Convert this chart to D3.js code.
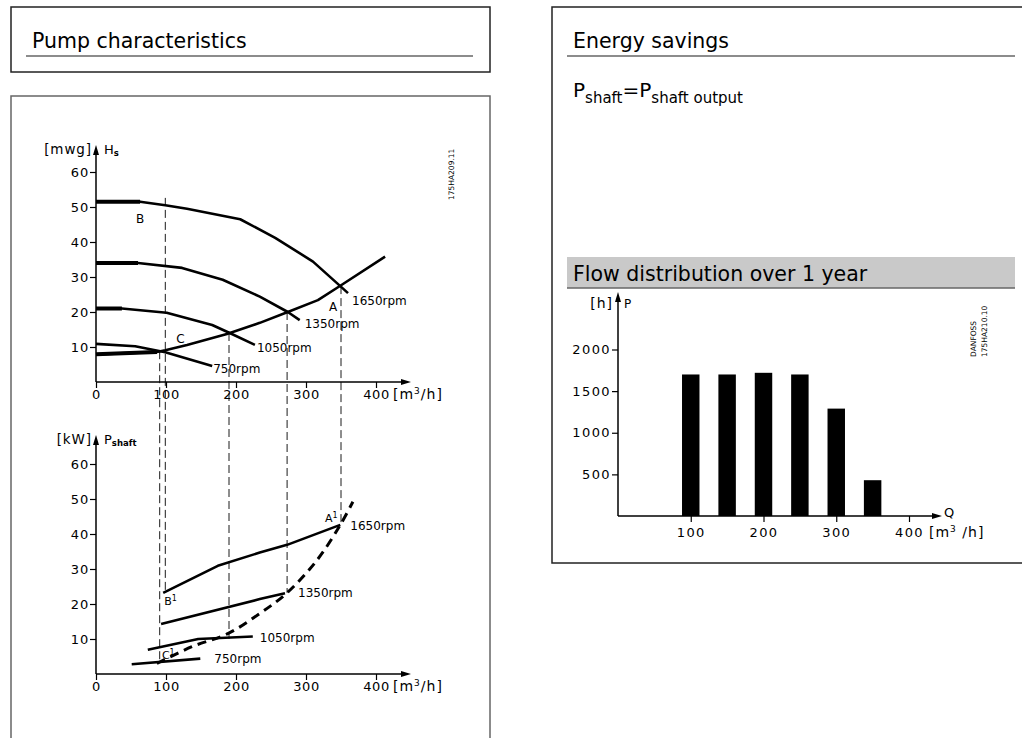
<!DOCTYPE html>
<html>
<head>
<meta charset="utf-8">
<script src="https://cdn.jsdelivr.net/npm/d3@7"></script>
<style>
    body { margin: 0; background: #fff; }
    text { font-family: "DejaVu Sans", sans-serif; fill: #000; }
</style>
</head>
<body>
<div class="chart-container"></div>
<script>
// ticks
const flowTicks = [0, 100, 200, 300, 400];
const headTicks = [10, 20, 30, 40, 50, 60];
const powerTicks = [10, 20, 30, 40, 50, 60];
const barFlowTicks = [100, 200, 300, 400];
const hourTicks = [500, 1000, 1500, 2000];

// head curves, [Q m3/h, H mwg]
const head1650 = [[0, 51.5], [63, 51.5], [99, 50.5], [130, 49.5], [206, 46.5], [256, 41.2], [310, 34.4], [349, 27.4], [360, 25.4]];
const head1350 = [[0, 34], [60, 34], [123, 32.6], [181, 29.2], [234, 24.4], [274, 20], [291, 17.7]];
const head1050 = [[0, 21], [37, 21], [101, 19.8], [166, 16.3], [191, 14], [227, 10.6]];
const head750 = [[0, 10.9], [56, 10.2], [99, 8.5], [166, 4.6]];
const systemHead = [[0, 7.9], [87, 8.6], [99, 9.1], [130, 10.6], [187, 13.7], [234, 16.9], [274, 20], [317, 23.4], [349, 27.5], [413, 35.8]];

// shaft power curves, [Q m3/h, P kW]
const power1650 = [[96, 23.2], [174, 30.9], [234, 34.7], [273, 36.9], [349, 42.6]];
const power1350 = [[93, 14.3], [234, 21.4], [270, 23.1]];
const power1050 = [[74, 6.9], [146, 10], [224, 10.7]];
const power750 = [[51, 2.8], [149, 4.4]];
const systemPower = [[87, 3.0], [137, 7.8], [189, 11.6], [234, 17.3], [273, 23.2], [316, 32.6], [349, 42.6], [367, 49.2]];

const speeds = ["1650rpm", "1350rpm", "1050rpm", "750rpm"];

// operating points projected down from head chart to power chart
const guideFlow = [91, 99, 190, 273, 350];
const guideHeadTop = [8.8, 52.6, 14, 20, 27.4];
const guidePowerEnd = [3.2, 23.2, 10, 23.2, 42.6];

// flow distribution over 1 year
const distFlow = [100, 150, 200, 250, 300, 350];
const distHours = [1700, 1700, 1720, 1700, 1290, 430];

const svg = d3.select(".chart-container")
    .append("svg")
    .attr("width", 1022)
    .attr("height", 738);

// ---- frames and headings
const frame = (x, y, w, h, color) => svg.append("rect")
    .attr("x", x).attr("y", y).attr("width", w).attr("height", h)
    .attr("fill", "none").attr("stroke", color).attr("stroke-width", 1.5);

frame(11, 7, 479, 65, "#222");
frame(11, 96, 479, 700, "#666");
frame(552, 7, 520, 556, "#222");

const heading = (x, y, str) => svg.append("text")
    .attr("x", x).attr("y", y).attr("font-size", 20.5).text(str);

const rule = (x1, x2, y) => svg.append("line")
    .attr("x1", x1).attr("x2", x2).attr("y1", y).attr("y2", y)
    .attr("stroke", "#666").attr("stroke-width", 1.5);

heading(32, 48, "Pump characteristics");
rule(26, 473, 56);
heading(573, 48, "Energy savings");
rule(567, 1015, 56);

const formula = svg.append("text").attr("x", 573).attr("y", 97).attr("font-size", 20);
formula.append("tspan").text("P");
formula.append("tspan").attr("font-size", 15).attr("dy", 6).text("shaft");
formula.append("tspan").attr("dy", -6).text("=P");
formula.append("tspan").attr("font-size", 15).attr("dy", 6).text("shaft output");

svg.append("rect")
    .attr("x", 567).attr("y", 257).attr("width", 448).attr("height", 31)
    .attr("fill", "#c9c9c9");
rule(567, 1015, 288);
heading(573, 281, "Flow distribution over 1 year");

// ---- helpers
const arrow = (x, y, dir) => {
    const d = dir === "up"
        ? `M${x},${y} L${x - 3},${y + 10} L${x + 3},${y + 10} Z`
        : `M${x},${y} L${x - 10},${y - 3} L${x - 10},${y + 3} Z`;
    svg.append("path").attr("d", d).attr("fill", "#000");
};

const styleTicks = (g, spacing) => {
    g.select(".domain").remove();
    g.selectAll(".tick line").attr("stroke", "#000").attr("stroke-width", 1.2);
    g.selectAll(".tick text")
        .attr("font-family", "DejaVu Sans, sans-serif")
        .attr("font-size", 13)
        .attr("letter-spacing", spacing);
};

const xQ = d3.scaleLinear().domain([0, 400]).range([96, 376]);
const yH = d3.scaleLinear().domain([0, 60]).range([382, 172]);
const yP = d3.scaleLinear().domain([0, 60]).range([674, 464]);

const pumpAxes = (yScale, ticks, topY, unit, symbol, sub) => {
    const y0 = yScale(0);

    svg.append("g")
        .attr("transform", `translate(0, ${y0})`)
        .call(d3.axisBottom(xQ).tickValues(flowTicks).tickSize(6).tickPadding(2))
        .call(g => styleTicks(g, 0.6));

    svg.append("g")
        .attr("transform", `translate(${xQ(0)}, 0)`)
        .call(d3.axisLeft(yScale).tickValues(ticks).tickSize(6).tickPadding(1))
        .call(g => styleTicks(g, 0.8));

    svg.append("line")
        .attr("x1", xQ(0)).attr("x2", 404).attr("y1", y0).attr("y2", y0)
        .attr("stroke", "#000").attr("stroke-width", 1.5);
    arrow(411, y0, "right");
    svg.append("line")
        .attr("x1", xQ(0)).attr("x2", xQ(0)).attr("y1", y0).attr("y2", topY + 8)
        .attr("stroke", "#000").attr("stroke-width", 1.5);
    arrow(xQ(0), topY, "up");

    const u = svg.append("text").attr("x", 393).attr("y", y0 + 17)
        .attr("font-size", 14).attr("letter-spacing", 1);
    u.append("tspan").text("[m");
    u.append("tspan").attr("font-size", 9).attr("dy", -5).text("3");
    u.append("tspan").attr("dy", 5).text("/h]");

    svg.append("text").attr("x", xQ(0) - 4).attr("y", topY + 9)
        .attr("text-anchor", "end").attr("font-size", 13.5).attr("letter-spacing", 0.9)
        .text(unit);
    const s = svg.append("text").attr("x", xQ(0) + 8).attr("y", topY + 9).attr("font-size", 13);
    s.append("tspan").text(symbol);
    s.append("tspan").attr("font-size", 8.5).attr("font-weight", "bold").attr("dy", 2).text(sub);
};

pumpAxes(yH, headTicks, 145, "[mwg]", "H", "s");
pumpAxes(yP, powerTicks, 435, "[kW]", "P", "shaft");

// ---- operating point guides
guideFlow.forEach((q, i) => {
    svg.append("line")
        .attr("x1", xQ(q)).attr("x2", xQ(q))
        .attr("y1", yH(guideHeadTop[i])).attr("y2", yP(guidePowerEnd[i]))
        .attr("stroke", "#000").attr("stroke-width", 0.9)
        .attr("stroke-dasharray", "8,4");
});

// ---- curves
const curveLine = (scaleY, curve) => d3.line()
    .x(d => xQ(d[0]))
    .y(d => scaleY(d[1]))
    .curve(curve || d3.curveLinear);

const drawCurve = (data, scaleY, thickStart) => {
    svg.append("path").datum(data)
        .attr("d", curveLine(scaleY))
        .attr("fill", "none").attr("stroke", "#000").attr("stroke-width", 2.6)
        .attr("stroke-linejoin", "round");
    if (thickStart) {
        svg.append("path").datum(data.slice(0, 2))
            .attr("d", curveLine(scaleY))
            .attr("fill", "none").attr("stroke", "#000").attr("stroke-width", 4);
    }
};

const headCurves = [head1650, head1350, head1050, head750];
const powerCurves = [power1650, power1350, power1050, power750];

headCurves.forEach((c, i) => drawCurve(c, yH, i < 3));
drawCurve(systemHead, yH, true);
powerCurves.forEach(c => drawCurve(c, yP, false));

svg.append("path").datum(systemPower)
    .attr("d", curveLine(yP, d3.curveCatmullRom))
    .attr("fill", "none").attr("stroke", "#000").attr("stroke-width", 3)
    .attr("stroke-dasharray", "9,6");

// ---- speed labels at curve ends
const headOffsets = [[4, 12], [5, 8], [2, 7], [1, 7]];
const powerOffsets = [[10, 5], [13, 4], [7, 5], [14, 4]];
const label = (x, y, str) => svg.append("text").attr("x", x).attr("y", y).attr("font-size", 12).text(str);

headCurves.forEach((c, i) => {
    const end = c[c.length - 1];
    label(xQ(end[0]) + headOffsets[i][0], yH(end[1]) + headOffsets[i][1], speeds[i]);
});
powerCurves.forEach((c, i) => {
    const end = c[c.length - 1];
    label(xQ(end[0]) + powerOffsets[i][0], yP(end[1]) + powerOffsets[i][1], speeds[i]);
});

// operating point letters
label(xQ(guideFlow[4]) - 12, yH(guideHeadTop[4]) + 25, "A");
label(xQ(head1650[1][0]) - 4, yH(head1650[1][1]) + 21, "B");
label(xQ(guideFlow[1]) + 11, yH(systemHead[2][1]) - 7, "C");

const supLabel = (x, y, str) => {
    const t = svg.append("text").attr("x", x).attr("y", y).attr("font-size", 11);
    t.append("tspan").text(str);
    t.append("tspan").attr("font-size", 8).attr("dy", -4).text("1");
};
supLabel(xQ(guideFlow[4]) - 16, yP(guidePowerEnd[4]) - 3, "A");
supLabel(xQ(power1650[0][0]) + 1, yP(power1650[0][1]) + 12, "B");
supLabel(xQ(systemPower[0][0]) + 5, yP(systemPower[0][1]) - 5, "C");

// drawing numbers
svg.append("text").attr("transform", "translate(454, 200) rotate(-90)")
    .attr("font-family", "Liberation Sans, sans-serif").attr("font-size", 7.5)
    .text("175HA209.11");

// ---- flow distribution bars
const xB = d3.scaleLinear().domain([0, 400]).range([618, 909]);
const yB = d3.scaleLinear().domain([0, 2000]).range([516, 349.5]);

svg.append("g")
    .attr("transform", `translate(0, ${yB(0)})`)
    .call(d3.axisBottom(xB).tickValues(barFlowTicks).tickFormat(d3.format("d")).tickSize(6).tickPadding(6))
    .call(g => styleTicks(g, 1.4));

svg.append("g")
    .attr("transform", `translate(${xB(0)}, 0)`)
    .call(d3.axisLeft(yB).tickValues(hourTicks).tickFormat(d3.format("d")).tickSize(6).tickPadding(1))
    .call(g => styleTicks(g, 1.4));

svg.selectAll(".bar")
    .data(distFlow)
    .enter()
    .append("rect")
    .attr("x", d => xB(d - 12))
    .attr("width", xB(24) - xB(0))
    .attr("y", (d, i) => yB(distHours[i]))
    .attr("height", (d, i) => yB(0) - yB(distHours[i]))
    .attr("fill", "#000");

svg.append("line")
    .attr("x1", xB(0)).attr("x2", 934).attr("y1", yB(0)).attr("y2", yB(0))
    .attr("stroke", "#000").attr("stroke-width", 1.5);
arrow(942, yB(0), "right");
svg.append("line")
    .attr("x1", xB(0)).attr("x2", xB(0)).attr("y1", yB(0)).attr("y2", 300)
    .attr("stroke", "#000").attr("stroke-width", 1.5);
arrow(xB(0), 292, "up");

svg.append("text").attr("x", 944).attr("y", yB(0) + 1).attr("font-size", 13).text("Q");
svg.append("text").attr("x", 613).attr("y", 308).attr("text-anchor", "end")
    .attr("font-size", 14).attr("letter-spacing", 1).text("[h]");
svg.append("text").attr("x", 624).attr("y", 308).attr("font-size", 12).text("P");

const bu = svg.append("text").attr("x", 929).attr("y", yB(0) + 21)
    .attr("font-size", 14).attr("letter-spacing", 1);
bu.append("tspan").text("[m");
bu.append("tspan").attr("font-size", 9).attr("dy", -5).text("3");
bu.append("tspan").attr("dy", 5).text(" /h]");

svg.append("text").attr("transform", "translate(976, 357) rotate(-90)")
    .attr("font-family", "Liberation Sans, sans-serif").attr("font-size", 7.5)
    .text("DANFOSS");
svg.append("text").attr("transform", "translate(987, 357) rotate(-90)")
    .attr("font-family", "Liberation Sans, sans-serif").attr("font-size", 7.5)
    .text("175HA210.10");
</script>
</body>
</html>
